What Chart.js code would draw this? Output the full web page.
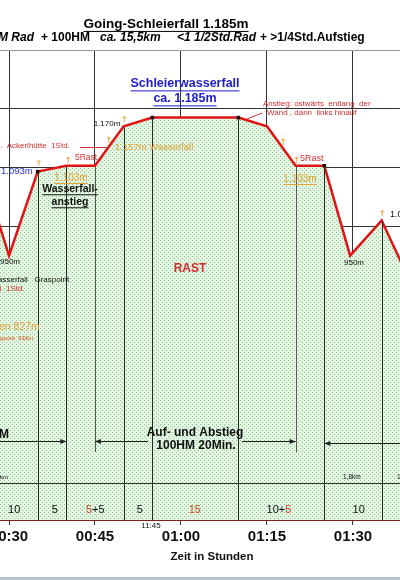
<!DOCTYPE html>
<html>
<head>
<meta charset="utf-8">
<script src="https://cdn.jsdelivr.net/npm/chart.js@4"></script>
<style>
  html, body { margin: 0; padding: 0; background: #fff; }
  canvas { display: block; }
</style>
</head>
<body>
<canvas id="profile" width="400" height="580"></canvas>
<script>
// Zeit in Minuten (ab Start), Höhe in m
const times   = [27.5, 30, 35, 40, 45, 50, 55, 70, 75, 80, 85, 89.5, 95, 100];
const heights = [1028, 950, 1093, 1103, 1103, 1170, 1185, 1185, 1170, 1103, 1103, 950, 1010, 905];
const squareTimes = [35, 55, 70, 85];

// kleine orange Markierungen
const markTimes   = [35.2, 40.3, 47.4, 50.1, 77.8, 80.2, 95.1];
const markHeights = [1108, 1114, 1148, 1183, 1145, 1114, 1023];

// senkrechte Linien
const dropTimes = [35, 40, 50, 55, 70, 85, 95];
const shortDropTimes = [45, 80];

const tickTimes  = [30, 45, 60, 75, 90];
const tickLabels = ["00:30", "00:45", "01:00", "01:15", "01:30"];

const segTimes  = [30.9, 38, 45, 52.8, 62.4, 77.3, 91];
const segLabels = ["10", "5", "5+5", "5", "15", "10+5", "10"];

function makePattern() {
    const c = document.createElement("canvas");
    c.width = 4; c.height = 4;
    const g = c.getContext("2d");
    g.fillStyle = "#e4f5e3";
    g.fillRect(0, 0, 4, 4);
    g.fillStyle = "#86c686";
    g.fillRect(0, 0, 1, 1);
    g.fillRect(2, 2, 1, 1);
    return g.createPattern(c, "repeat");
}

function makeMark() {
    const c = document.createElement("canvas");
    c.width = 5; c.height = 7;
    const g = c.getContext("2d");
    g.strokeStyle = "#e3a235";
    g.lineWidth = 1;
    g.beginPath();
    g.moveTo(2.5, 1); g.lineTo(2.5, 7);
    g.moveTo(0.5, 3); g.lineTo(2.5, 1); g.lineTo(4.5, 3);
    g.stroke();
    return c;
}

function txt(ctx, s, x, y, font, color, align, underline) {
    ctx.save();
    ctx.font = font;
    ctx.fillStyle = color;
    ctx.textAlign = align || "left";
    ctx.textBaseline = "middle";
    ctx.fillText(s, x, y);
    if (underline) {
        const w = ctx.measureText(s).width;
        let x0 = x;
        if (align === "center") x0 = x - w / 2;
        const size = parseFloat(font.match(/(\d+(\.\d+)?)px/)[1]);
        ctx.strokeStyle = color;
        ctx.lineWidth = 1;
        ctx.beginPath();
        ctx.moveTo(x0, y + size * 0.55);
        ctx.lineTo(x0 + w, y + size * 0.55);
        ctx.stroke();
    }
    ctx.restore();
}

function arrowHead(ctx, x, y, dir) {
    ctx.beginPath();
    ctx.moveTo(x, y);
    ctx.lineTo(x - dir * 6, y - 2.5);
    ctx.lineTo(x - dir * 6, y + 2.5);
    ctx.closePath();
    ctx.fill();
}

const AR = "'Liberation Sans', Arial, sans-serif";

const extras = {
    id: "extras",
    afterDatasetsDraw(chart) {
        const ctx = chart.ctx;
        const xs = chart.scales.x, ys = chart.scales.y;
        const area = chart.chartArea;

        ctx.save();
        // Lotlinien
        ctx.strokeStyle = "#1a2a1a";
        ctx.lineWidth = 1;
        dropTimes.forEach(t => {
            const i = times.indexOf(t);
            const px = Math.round(xs.getPixelForValue(t)) + 0.5;
            ctx.beginPath();
            ctx.moveTo(px, ys.getPixelForValue(heights[i]) + 1);
            ctx.lineTo(px, area.bottom);
            ctx.stroke();
        });
        ctx.strokeStyle = "#555";
        shortDropTimes.forEach(t => {
            const i = times.indexOf(t);
            const px = Math.round(xs.getPixelForValue(t)) + 0.5;
            ctx.beginPath();
            ctx.moveTo(px, ys.getPixelForValue(heights[i]) + 1);
            ctx.lineTo(px, 452);
            ctx.stroke();
        });

        // obere Begrenzung
        ctx.strokeStyle = "#999";
        ctx.beginPath();
        ctx.moveTo(area.left, area.top + 0.5);
        ctx.lineTo(area.right, area.top + 0.5);
        ctx.stroke();

        // km-Linie
        ctx.strokeStyle = "#333";
        ctx.beginPath();
        ctx.moveTo(0, 483.5);
        ctx.lineTo(400, 483.5);
        ctx.stroke();

        // Pfeile
        ctx.fillStyle = "#222";
        ctx.strokeStyle = "#222";
        const x40 = xs.getPixelForValue(40), x45 = xs.getPixelForValue(45);
        const x80 = xs.getPixelForValue(80), x85 = xs.getPixelForValue(85);
        ctx.beginPath();
        ctx.moveTo(0, 441.5); ctx.lineTo(x40, 441.5);
        ctx.moveTo(x45, 441.5); ctx.lineTo(148, 441.5);
        ctx.moveTo(242, 441.5); ctx.lineTo(x80, 441.5);
        ctx.moveTo(x85, 443.5); ctx.lineTo(400, 443.5);
        ctx.stroke();
        arrowHead(ctx, x40, 441.5, 1);
        arrowHead(ctx, x45, 441.5, -1);
        arrowHead(ctx, x80, 441.5, 1);
        arrowHead(ctx, x85, 443.5, -1);

        // rote Hinweislinien
        ctx.strokeStyle = "#d03030";
        ctx.beginPath();
        ctx.moveTo(80, 147.5); ctx.lineTo(108, 147.5);
        ctx.moveTo(247, 119); ctx.lineTo(262, 113);
        ctx.stroke();
        ctx.restore();

        // Titel
        txt(ctx, "Going-Schleierfall 1.185m", 166, 24, "bold 13.5px " + AR, "#000", "center", true);
        txt(ctx, "M Rad", -2, 38, "italic bold 12px " + AR, "#000");
        txt(ctx, "+ 100HM", 41, 38, "bold 12px " + AR, "#000");
        txt(ctx, "ca. 15,5km", 100, 38, "italic bold 12px " + AR, "#000");
        txt(ctx, "<1 1/2Std.Rad", 177, 38, "italic bold 12px " + AR, "#000");
        txt(ctx, "+ >1/4Std.Aufstieg", 260, 38, "bold 12px " + AR, "#000");

        // Beschriftungen im Profil
        txt(ctx, "Schleierwasserfall", 185, 84, "bold 12.5px " + AR, "#1c1ccc", "center", true);
        txt(ctx, "ca. 1.185m", 185, 99, "bold 12.5px " + AR, "#1c1ccc", "center", true);
        txt(ctx, "1.170m", 107, 124, "8px " + AR, "#111", "center");
        txt(ctx, "1.157m Wasserfall", 115, 147, "9.5px " + AR, "#e3a235");
        txt(ctx, ".  Ackerlhütte  1Std.", 0, 146, "8px " + AR, "#d03030");
        txt(ctx, "5Rast", 75, 158, "8.5px " + AR, "#d03030");
        txt(ctx, "1.093m", 1, 171, "9.5px " + AR, "#2233cc");
        txt(ctx, "1.103m", 71, 178, "10px " + AR, "#e3a235", "center", true);
        txt(ctx, "Wasserfall-", 70, 189, "bold 10.5px " + AR, "#111", "center", true);
        txt(ctx, "anstieg", 70, 202, "bold 10.5px " + AR, "#111", "center", true);
        txt(ctx, "Anstieg: ostwärts  entlang  der", 263, 104, "8px " + AR, "#d03030");
        txt(ctx, "Wand , dann  links hinauf", 267, 113, "8px " + AR, "#d03030");
        txt(ctx, "5Rast", 300, 159, "9px " + AR, "#d03030");
        txt(ctx, "1.103m", 300, 179, "10px " + AR, "#e3a235", "center", true);
        txt(ctx, "950m", 10, 262, "8px " + AR, "#111", "center");
        txt(ctx, "950m", 354, 263, "8px " + AR, "#111", "center");
        txt(ctx, "1.010m", 390, 215, "9px " + AR, "#111");
        txt(ctx, "RAST", 190, 269, "bold 12px " + AR, "#cc3030", "center");
        txt(ctx, "asserfall   Graspoint", -2, 280, "8px " + AR, "#111");
        txt(ctx, "ll  1Std.", -2, 289, "8px " + AR, "#d03030");
        txt(ctx, "en 827m", -1, 327, "10.5px " + AR, "#e3a235");
        txt(ctx, "spoint  916m", -1, 338, "6px " + AR, "#e05020");
        txt(ctx, "M", -1, 435, "bold 12px " + AR, "#111");
        txt(ctx, "Auf- und Abstieg", 195, 433, "bold 12px " + AR, "#111", "center");
        txt(ctx, "100HM 20Min.", 196, 446, "bold 12px " + AR, "#111", "center");
        txt(ctx, "km", 0, 477, "6px " + AR, "#111");
        txt(ctx, "1,8km", 343, 477, "6.5px " + AR, "#111");
        txt(ctx, "1", 397, 477, "6.5px " + AR, "#111");

        // Minuten je Abschnitt
        const segFont = "11px " + AR;
        segLabels.forEach((s, i) => {
            const px = xs.getPixelForValue(segTimes[i]);
            if (s === "5+5") {
                txt(ctx, "5", px - 3, 510, segFont, "#d04020", "right");
                txt(ctx, "+5", px - 3, 510, segFont, "#111", "left");
            } else if (s === "10+5") {
                txt(ctx, "10+", px + 5, 510, segFont, "#111", "right");
                txt(ctx, "5", px + 5, 510, segFont, "#d04020", "left");
            } else if (s === "15") {
                txt(ctx, s, px, 510, segFont, "#d04020", "center");
            } else {
                txt(ctx, s, px, 510, segFont, "#111", "center");
            }
        });
        txt(ctx, "11:45", 151, 526, "8px " + AR, "#111", "center");

        // Achsentitel
        txt(ctx, "Zeit in Stunden", 212, 557, "bold 11.5px " + AR, "#111", "center");

        // Rand unten
        ctx.save();
        ctx.fillStyle = "#b8c4d0";
        ctx.fillRect(0, 577, 400, 3);
        ctx.restore();
    }
};

const markImg = makeMark();

new Chart(document.getElementById("profile"), {
    type: "line",
    data: {
        datasets: [
            {
                label: "Höhe",
                data: times.map((t, i) => ({x: t, y: heights[i]})),
                borderColor: "#e01414",
                borderWidth: 2.5,
                backgroundColor: makePattern(),
                fill: "start",
                tension: 0,
                pointStyle: "rect",
                pointRadius: times.map(t => squareTimes.includes(t) ? 2.5 : 0),
                pointBackgroundColor: "#111",
                pointBorderColor: "#111",
                pointBorderWidth: 0,
                order: 2
            },
            {
                label: "Marken",
                data: markTimes.map((t, i) => ({x: t, y: markHeights[i]})),
                showLine: false,
                pointStyle: markImg,
                pointRadius: 4,
                order: 1
            }
        ]
    },
    options: {
        responsive: false,
        animation: false,
        devicePixelRatio: 1,
        layout: {autoPadding: false, padding: {top: 50, left: 0, right: 0, bottom: 0}},
        plugins: {legend: {display: false}, tooltip: {enabled: false}},
        scales: {
            x: {
                type: "linear",
                min: 28.43,
                max: 98.2,
                afterBuildTicks: scale => {
                    scale.ticks = tickTimes.map(v => ({value: v}));
                },
                afterFit: scale => {
                    scale.height = 60;
                    scale.paddingLeft = 0;
                    scale.paddingRight = 0;
                },
                ticks: {
                    autoSkip: false,
                    maxRotation: 0,
                    padding: 3,
                    color: "#111",
                    font: {family: "'Liberation Sans', Arial", size: 15, weight: "bold"},
                    callback: (v) => tickLabels[tickTimes.indexOf(v)]
                },
                grid: {
                    color: "#333",
                    lineWidth: 1,
                    borderDash: [3, 3],
                    tickBorderDash: [],
                    tickLength: 5,
                    tickColor: "#333"
                },
                border: {display: true, color: "#7a2222", width: 2}
            },
            y: {
                min: 500,
                max: 1300,
                ticks: {display: false, stepSize: 100},
                afterFit: scale => { scale.width = 0; },
                grid: {
                    color: ctx => ctx.tick && ctx.tick.value >= 1300 ? "rgba(0,0,0,0)" : "#333",
                    borderDash: [3, 3],
                    drawTicks: false
                },
                border: {display: false}
            }
        }
    },
    plugins: [extras]
});
</script>
</body>
</html>
